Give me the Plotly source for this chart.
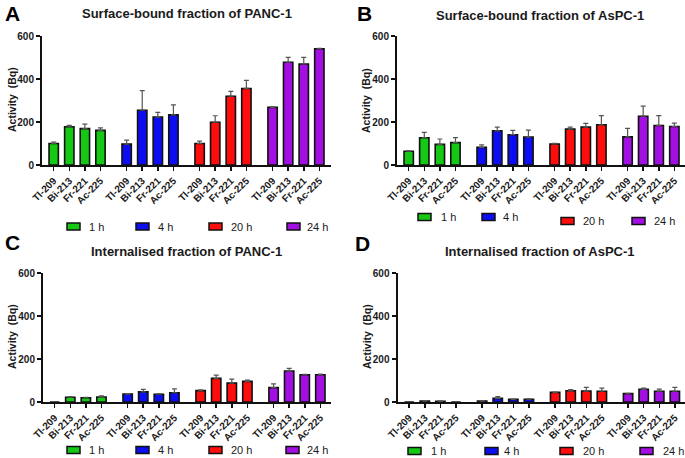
import plotly.graph_objects as go

W, H = 685, 458

isotopes = ["Tl-209", "Bi-213", "Fr-221", "Ac-225"]
times = ["1 h", "4 h", "20 h", "24 h"]
colors = ["#14C814", "#0D0DF2", "#FF0D0D", "#A30FE3"]

# rows = time points (1 h, 4 h, 20 h, 24 h); columns = isotopes
A_mean = [[100, 178, 169, 161], [97, 255, 223, 233], [100, 199, 320, 356], [268, 478, 470, 541]]
A_err = [[6, 6, 21, 12], [19, 91, 22, 47], [11, 30, 22, 38], [4, 23, 31, 2]]
B_mean = [[64, 127, 96, 104], [82, 159, 141, 130], [98, 167, 176, 187], [131, 227, 184, 179]]
B_err = [[2, 25, 25, 23], [12, 17, 20, 32], [3, 9, 18, 43], [39, 47, 46, 16]]
C_mean = [[0, 22, 20, 23], [37, 47, 36, 43], [53, 110, 88, 96], [67, 144, 127, 127]]
C_err = [[0, 3, 2, 6], [2, 12, 3, 18], [3, 15, 18, 6], [17, 12, 2, 3]]
D_mean = [[0, 4, 3, 0], [4, 17, 12, 13], [45, 52, 51, 50], [39, 59, 50, 50]]
D_err = [[0, 3, 2, 0], [3, 8, 2, 2], [1, 6, 17, 15], [1, 6, 10, 18]]

titles = ["Surface-bound fraction of PANC-1", "Surface-bound fraction of AsPC-1",
          "Internalised fraction of PANC-1", "Internalised fraction of AsPC-1"]
letters = ["A", "B", "C", "D"]
y_ticks = [0, 200, 400, 600]

GROUP_STEP = 4.68
FONT = "Liberation Sans, Arial, sans-serif"
TXT = "#1a1a1a"


def px(x):
    return x / W


def py(y):
    return 1 - y / H


panels = [
    dict(mean=A_mean, err=A_err, x0=42, x1=331, ytop=36, ybot=165,
         title_xy=(187, 14), letter_xy=(3, 0), ytitle_xy=(12, 100),
         legend=[(67, 226.5, 87), (136, 226.5, 156), (209, 226.5, 229), (287, 226.5, 305)]),
    dict(mean=B_mean, err=B_err, x0=397, x1=685, ytop=36, ybot=165,
         title_xy=(540, 15), letter_xy=(355, 0), ytitle_xy=(366, 100),
         legend=[(418, 217, 439), (482, 217, 501), (561, 221, 581), (632, 221, 652)]),
    dict(mean=C_mean, err=C_err, x0=43, x1=331, ytop=273, ybot=402,
         title_xy=(187, 252), letter_xy=(3, 229), ytitle_xy=(12, 337),
         legend=[(67, 450, 87), (136, 450, 156), (209, 450, 229), (286, 450, 305)]),
    dict(mean=D_mean, err=D_err, x0=397.5, x1=685, ytop=273, ybot=402,
         title_xy=(540, 252), letter_xy=(353, 230), ytitle_xy=(367, 337),
         legend=[(408, 451, 429), (485, 451, 502), (560, 451, 581), (640, 451, 661)]),
]

fig = go.Figure()
annotations = []
shapes = []

tickvals = []
ticktext = []
for g in range(len(times)):
    for i, iso in enumerate(isotopes):
        tickvals.append(g * GROUP_STEP + i)
        ticktext.append(iso)

for p_idx, p in enumerate(panels):
    suffix = "" if p_idx == 0 else str(p_idx + 1)
    xa, ya = "x" + suffix, "y" + suffix
    means = p["mean"]
    errs = p["err"]
    for g, t in enumerate(times):
        xs = [g * GROUP_STEP + i for i in range(len(isotopes))]
        fig.add_trace(go.Bar(
            x=xs, y=means[g], width=0.6, xaxis=xa, yaxis=ya, name=t,
            showlegend=False,
            marker=dict(color=colors[g], line=dict(color="#111111", width=1.6)),
            error_y=dict(type="data", array=errs[g], arrayminus=[0] * len(errs[g]),
                         symmetric=False, color="#555555", thickness=1.2, width=2.5),
        ))

    span = (p["x1"] - p["x0"]) / 15.59
    xr = [-0.75, -0.75 + span]
    fig.update_layout(**{
        "xaxis" + suffix: dict(
            domain=[px(p["x0"]), px(p["x1"])], anchor=ya, range=xr,
            tickmode="array", tickvals=tickvals, ticktext=ticktext, tickangle=-45,
            tickfont=dict(family=FONT, size=10, color=TXT, weight="bold"),
            showline=True, linecolor="#111111", linewidth=2,
            ticks="outside", ticklen=4, tickwidth=1.5, tickcolor="#111111",
            showgrid=False, zeroline=False, automargin=False, fixedrange=True),
        "yaxis" + suffix: dict(
            domain=[py(p["ybot"]), py(p["ytop"])], anchor=xa, range=[0, 600],
            tickmode="array", tickvals=y_ticks,
            tickfont=dict(family=FONT, size=10, color=TXT, weight="bold"),
            showline=True, linecolor="#111111", linewidth=2,
            ticks="outside", ticklen=4, tickwidth=1.5, tickcolor="#111111",
            showgrid=False, zeroline=False, automargin=False, fixedrange=True),
    })

    annotations.append(dict(text="<b>" + titles[p_idx] + "</b>", x=px(p["title_xy"][0]),
                            y=py(p["title_xy"][1]), xref="paper", yref="paper",
                            xanchor="center", yanchor="middle", showarrow=False,
                            font=dict(family=FONT, size=13, color=TXT)))
    annotations.append(dict(text="<b>" + letters[p_idx] + "</b>", x=px(p["letter_xy"][0]),
                            y=py(p["letter_xy"][1]), xref="paper", yref="paper",
                            xanchor="left", yanchor="top", showarrow=False,
                            font=dict(family=FONT, size=21, color="#000000")))
    annotations.append(dict(text="<b>Activity\u00a0\u00a0(Bq)</b>", x=px(p["ytitle_xy"][0]),
                            y=py(p["ytitle_xy"][1]), xref="paper", yref="paper",
                            xanchor="center", yanchor="middle", textangle=-90, showarrow=False,
                            font=dict(family=FONT, size=10.5, color=TXT)))
    for g, (sx, sy, tx) in enumerate(p["legend"]):
        shapes.append(dict(type="rect", xref="paper", yref="paper",
                           x0=px(sx), x1=px(sx + 13), y0=py(sy + 3.5), y1=py(sy - 3.5),
                           fillcolor=colors[g], line=dict(color="#111111", width=1.5)))
        annotations.append(dict(text=times[g], x=px(tx), y=py(sy), xref="paper", yref="paper",
                                xanchor="left", yanchor="middle", showarrow=False,
                                font=dict(family=FONT, size=11, color=TXT)))

fig.update_layout(
    width=W, height=H, margin=dict(l=0, r=0, t=0, b=0),
    paper_bgcolor="white", plot_bgcolor="white",
    barmode="overlay", showlegend=False,
    annotations=annotations, shapes=shapes,
)

fig.write_html("out.html", config={"displayModeBar": False, "staticPlot": True},
               post_script="document.body.style.margin='0';document.body.style.padding='0';")
